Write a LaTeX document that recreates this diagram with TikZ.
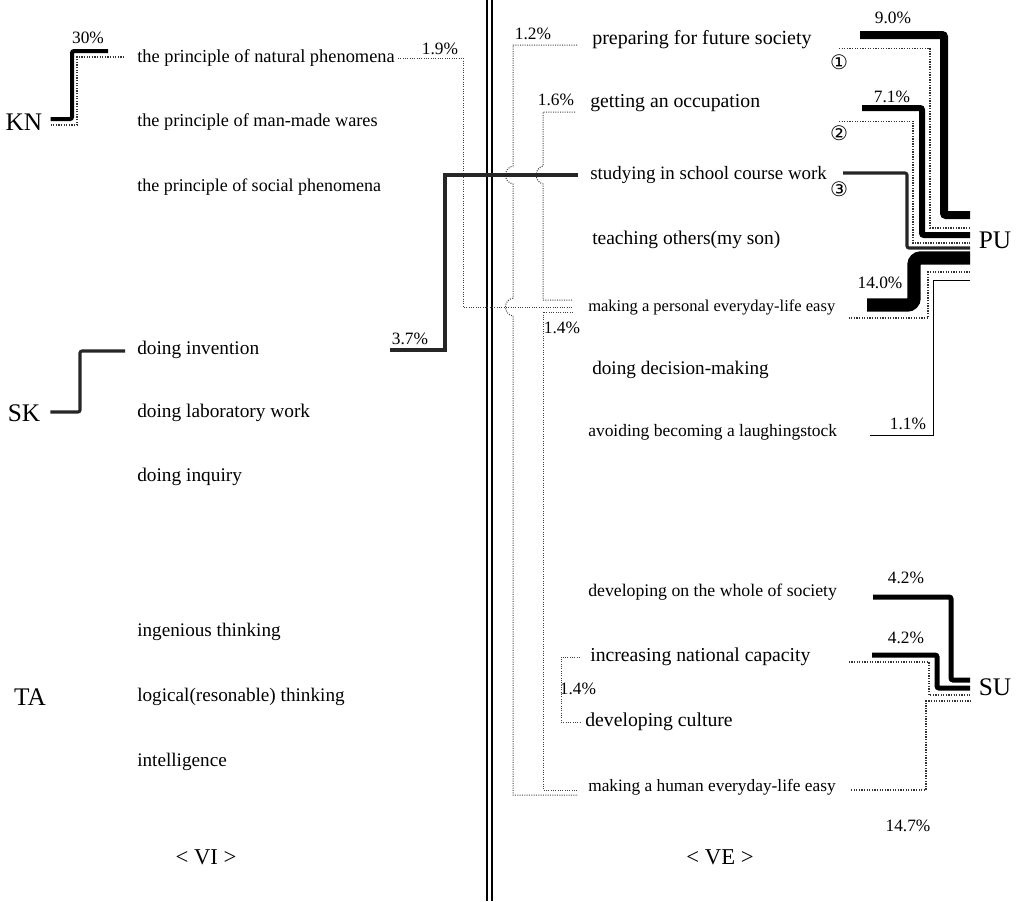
\documentclass[tikz,border=0pt]{standalone}
\usepackage{fontspec}
\setmainfont{Liberation Serif}
\newfontfamily\djv{DejaVu Sans}
\usetikzlibrary{calc}
\begin{document}
\begin{tikzpicture}[x=0.75pt,y=-0.75pt,
  txt/.style={anchor=west,inner sep=0pt,font=\fontsize{#1}{#1}\selectfont},
  txt/.default=14.4,
  grp/.style={inner sep=0pt,font=\fontsize{19}{20}\selectfont},
  pct/.style={inner sep=0pt,font=\fontsize{13}{13}\selectfont},
  circ/.style={inner sep=0pt,font=\djv\fontsize{15}{15}\selectfont},
  thk/.style={line width=#1,draw=black,rounded corners=1.5},
  thk/.default=3pt,
  dotl/.style={densely dotted,line width=0.75pt,draw=black!75},
  dbl/.style={densely dotted,line width=0.95pt,draw=black!80},
  sep/.style={line width=0.8pt,draw=black}]
\useasboundingbox (0,0) rectangle (1017,901);
\fill[white] (0,0) rectangle (1017,901);

% ---------- group labels ----------
\node[grp] (KN) at (24,122) {KN};
\node[grp] (SK) at (24,413) {SK};
\node[grp] (TA) at (30,697) {TA};
\node[grp] (PU) at (995,240) {PU};
\node[grp] (SU) at (995,687) {SU};

% ---------- left items ----------
\node[txt=13.8] (n1) at (137,58) {the principle of natural phenomena};
\node[txt=13.7] (n2) at (137,122) {the principle of man-made wares};
\node[txt=13.5] (n3) at (137,187) {the principle of social phenomena};
\node[txt=14.5] (s1) at (137,350) {doing invention};
\node[txt=14.5] (s2) at (137,413) {doing laboratory work};
\node[txt=14.5] (s3) at (137,477) {doing inquiry};
\node[txt=14.4] (t1) at (137,632) {ingenious thinking};
\node[txt=14.4] (t2) at (137,697) {logical(resonable) thinking};
\node[txt=14.4] (t3) at (137,762) {intelligence};
\node[inner sep=0pt,font=\fontsize{17}{17}\selectfont] (VI) at (206,857) {< VI >};

% ---------- right items ----------
\node[txt=15] (r1) at (592,40) {preparing for future society};
\node[txt=14.8] (r2) at (590,103) {getting an occupation};
\node[txt=14.2] (r3) at (590,175) {studying in school course work};
\node[txt=14.6] (r4) at (592,240) {teaching others(my son)};
\node[txt=12.4] (r5) at (588,307) {making a personal everyday-life easy};
\node[txt=14.4] (r6) at (592,370) {doing decision-making};
\node[txt=13.1] (r7) at (588,432) {avoiding becoming a laughingstock};
\node[txt=13.3] (r8) at (588,592) {developing on the whole of society};
\node[txt=14.8] (r9) at (590,657) {increasing national capacity};
\node[txt=14.8] (r10) at (585,722) {developing culture};
\node[txt=13] (r11) at (588,787) {making a human everyday-life easy};
\node[inner sep=0pt,font=\fontsize{17}{17}\selectfont] (VE) at (720,857) {< VE >};

% ---------- separator ----------
\draw[sep] (487,0) -- (487,901);
\draw[sep] (492,0) -- (492,901);

% ---------- percentage labels ----------
\node[pct] (p30) at (88,38) {30\%};
\node[pct] (p19) at (440,49) {1.9\%};
\node[pct] (p12) at (533,34) {1.2\%};
\node[pct] (p16) at (556,100) {1.6\%};
\node[pct] (p37) at (410,339) {3.7\%};
\node[pct] (p14a) at (562,328) {1.4\%};
\node[pct] (p90) at (893,18) {9.0\%};
\node[pct] (p71) at (892,97) {7.1\%};
\node[pct] (p140) at (880,283) {14.0\%};
\node[pct] (p11) at (908,424) {1.1\%};
\node[pct] (p42a) at (906,578) {4.2\%};
\node[pct] (p42b) at (906,638) {4.2\%};
\node[pct] (p14b) at (578,689) {1.4\%};
\node[pct] (p147) at (908,826) {14.7\%};
\node[circ] (c1) at (839,62) {①};
\node[circ] (c2) at (839,133) {②};
\node[circ] (c3) at (839,189) {③};

% ---------- KN / SK connectors ----------
\draw[dbl] ($(KN.east)+(8,3)$) -| (77,57) -- ($(n1.west)+(-12,-1)$);
\draw[thk=3pt] ($(KN.east)+(8,-3)$) -| (72,51) -- (108,51);
\draw[thk=2.3pt,draw=black!85] ($(SK.east)+(10,-1)$) -| (80,351) -- ($(s1.west)+(-12,1)$);

% ---------- dotted connectors on the right panel ----------
\draw[dotl] ($(n1.east)+(3,0)$) -- (463,58) -- (463,307) -- ($(r5.west)+(-15,0)$);
\draw[dotl] ($(r1.west)+(-15,5)$) -- (513,45) -- (513,166)
   .. controls (503,168) and (503,182) .. (513,184) -- (513,298)
   .. controls (503,300) and (503,314) .. (513,316) -- (513,795) -- ($(r11.west)+(-10,8)$);
\draw[dotl] ($(r2.west)+(-15,9)$) -- (543,112) -- (543,166)
   .. controls (534,168) and (534,182) .. (543,184) -- (543,300) -- ($(r5.west)+(-15,-7)$);
\draw[dotl] ($(r5.west)+(-15,5)$) -- (543,312) -- (543,790) -- ($(r11.west)+(-10,3)$);
\draw[dotl] ($(r9.west)+(-10,0)$) -- (561,657) -- (561,722) -- ($(r10.west)+(-5,0)$);

% ---------- 3.7% ----------
\draw[thk=2.3pt,draw=black!85,rounded corners=0] ($(r3.west)+(-12,0)$) -| (445,350) -- (390,350);

% ---------- PU hub ----------
\coordinate (pu1) at (970,215);
\coordinate (pu2) at (970,228);
\coordinate (pu3) at (970,235);
\coordinate (pu4) at (970,243);
\coordinate (pu5) at (970,248);
\coordinate (pu6) at (970,258);
\coordinate (pu7) at (970,272);
\coordinate (pu8) at (970,280);
\draw[dbl] ($(c1.north)+(0,-6)$) -| (930,228) -- (pu2);
\draw[dbl] ($(c2.north)+(0,-4)$) -| (913,243) -- (pu4);
\draw[dbl] ($(r5.east)+(13,11)$) -| (928,272) -- (pu7);
\draw[line width=0.6pt] (870,435) -| (933,280) -- (pu8);
\draw[thk=6pt] (860,35) -| (944,215) -- (pu1);
\draw[thk=4.5pt] (862,108) -| (922,235) -- (pu3);
\draw[thk=2.3pt,draw=black!85] (843,173) -| (907,248) -- (pu5);
\draw[line width=10pt,rounded corners=5] (867,305) -| (914,258) -- (pu6);

% ---------- SU hub ----------
\coordinate (su1) at (970,680);
\coordinate (su2) at (970,688);
\coordinate (su3) at (970,695);
\coordinate (su4) at (970,701);
\draw[dbl] ($(r9.east)+(38,5)$) -| (929,695) -- (su3);
\draw[dbl] ($(r11.east)+(15,3)$) -| (926,701) -- (su4);
\draw[thk=3.75pt] (873,597) -| (951,680) -- (su1);
\draw[thk=3.75pt] (872,655) -| (937,688) -- (su2);
\end{tikzpicture}
\end{document}
